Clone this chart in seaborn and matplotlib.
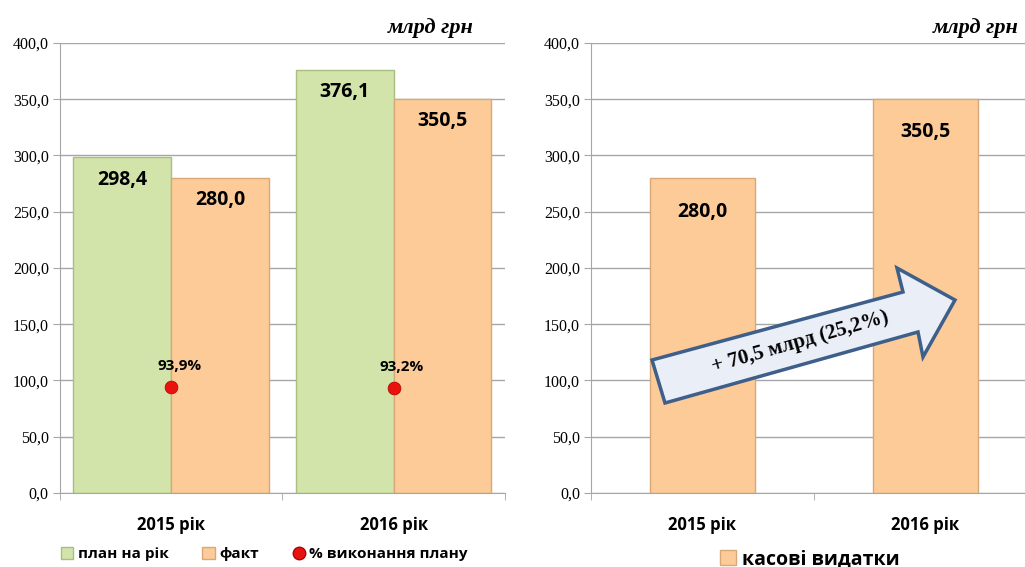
import numpy as np
import pandas as pd
import seaborn as sns
import matplotlib.pyplot as plt
from matplotlib.patches import Patch, Polygon
from matplotlib.lines import Line2D
from matplotlib.ticker import FuncFormatter, FixedLocator

# дані
years = ['2015 рік', '2016 рік']
plan = [298.4, 376.1]
fact = [280.0, 350.5]
pct_done = [93.9, 93.2]
cash = [280.0, 350.5]
series = ['план на рік', 'факт']

green = '#D3E4AA'
green_edge = '#A9BE80'
orange = '#FCCB98'
orange_edge = '#D8A878'
grid_c = '#A6A6A6'

sns.set_style('white')
plt.rcParams['font.family'] = ['Open Sans', 'DejaVu Sans']
plt.rcParams['text.color'] = 'black'
plt.rcParams['xtick.color'] = 'black'
plt.rcParams['ytick.color'] = 'black'
serif = ['Liberation Serif', 'DejaVu Serif']

df = pd.DataFrame({'рік': years * 2,
                   'сума': plan + fact,
                   'серія': [series[0]] * 2 + [series[1]] * 2})

fig = plt.figure(figsize=(10.25, 5.67), dpi=100)
ax1 = fig.add_axes([0.0585, 0.1305, 0.434, 0.7937])
ax2 = fig.add_axes([0.5766, 0.1305, 0.435, 0.7937])


def fmt(v, pos=None):
    return ('%.1f' % v).replace('.', ',')


def style_axis(ax):
    ax.set_ylim(0, 400)
    ax.set_xlim(-0.5, 1.5)
    ax.set_yticks(np.arange(0, 401, 50))
    ax.yaxis.set_major_formatter(FuncFormatter(fmt))
    ax.grid(axis='y', color=grid_c, lw=1)
    ax.set_axisbelow(True)
    for s in ['top', 'right']:
        ax.spines[s].set_visible(False)
    for s in ['left', 'bottom']:
        ax.spines[s].set_color(grid_c)
    ax.tick_params(axis='y', left=True, length=5, color=grid_c, labelcolor='black',
                   pad=3, labelsize=11.5)
    for lb in ax.get_yticklabels():
        lb.set_family(serif)
    ax.xaxis.set_minor_locator(FixedLocator([-0.5, 0.5, 1.5]))
    ax.tick_params(axis='x', which='minor', bottom=True, length=5, color=grid_c)
    ax.tick_params(axis='x', which='major', bottom=False, pad=13, labelsize=12,
                   labelcolor='black')
    for lb in ax.get_xticklabels():
        lb.set_fontweight('bold')
    ax.set_xlabel('')
    ax.set_ylabel('')


# ліва діаграма
sns.barplot(data=df, x='рік', y='сума', hue='серія', hue_order=series,
            palette={series[0]: green, series[1]: orange}, width=0.88, saturation=1,
            dodge=True, legend=False, ax=ax1, linewidth=1)
for cont, ec in zip(ax1.containers, [green_edge, orange_edge]):
    for bar, v in zip(cont, cont.datavalues):
        bar.set_edgecolor(ec)
        ax1.annotate(fmt(v), (bar.get_x() + bar.get_width() / 2, v),
                     xytext=(0, -9), textcoords='offset points',
                     ha='center', va='top', fontsize=14, fontweight='bold')

sns.scatterplot(x=years, y=pct_done, color='#E8130F', s=85, edgecolor='#B00000',
                linewidth=0.5, zorder=5, ax=ax1, legend=False)
for i, v in enumerate(pct_done):
    ax1.annotate(fmt(v) + '%', (i, v), xytext=(6, 10), textcoords='offset points',
                 ha='center', va='bottom', fontsize=11, fontweight='bold')
style_axis(ax1)
ax1.text(0.93, 1.01, 'млрд грн', transform=ax1.transAxes, ha='right', va='bottom',
         fontsize=16, fontweight='bold', style='italic', family=serif)

# права діаграма
sns.barplot(x=years, y=cash, color=orange, width=0.47, ax=ax2, saturation=1,
            edgecolor=orange_edge, linewidth=1)
for cont in ax2.containers:
    for bar, v in zip(cont, cont.datavalues):
        ax2.annotate(fmt(v), (bar.get_x() + bar.get_width() / 2, v),
                     xytext=(0, -17), textcoords='offset points',
                     ha='center', va='top', fontsize=14, fontweight='bold')
style_axis(ax2)
ax2.text(0.96, 1.01, 'млрд грн', transform=ax2.transAxes, ha='right', va='bottom',
         fontsize=16, fontweight='bold', style='italic', family=serif)

# стрілка приросту
W, H = 1025.0, 567.0
arrow_px = [(652, 360), (903, 292), (897, 268), (955, 300), (923, 357), (918, 332), (665, 403)]
arrow_pts = [(x / W, 1 - y / H) for x, y in arrow_px]
fig.patches.append(Polygon(arrow_pts, closed=True, transform=fig.transFigure,
                           facecolor='#E9EEF7', edgecolor='#3E5F8A', lw=2.5, zorder=10))
fig.text(800 / W, 1 - 342 / H, '+ 70,5 млрд (25,2%)', rotation=16,
         ha='center', va='center', fontsize=15, fontweight='bold', family=serif, zorder=11)

# легенди
h1 = [Patch(facecolor=green, edgecolor=green_edge),
      Patch(facecolor=orange, edgecolor=orange_edge),
      Line2D([], [], marker='o', ls='', markersize=9, markerfacecolor='#E8130F',
             markeredgecolor='#B00000')]
fig.legend(h1, series + ['% виконання плану'], loc='center', bbox_to_anchor=(0.258, 1 - 554 / H),
           ncol=3, frameon=False, handlelength=0.8, handleheight=0.8, handletextpad=0.3,
           columnspacing=2.2, prop={'weight': 'bold', 'size': 11})
fig.legend([Patch(facecolor=orange, edgecolor=orange_edge)], ['касові видатки'], loc='center',
           bbox_to_anchor=(0.79, 1 - 559 / H), frameon=False, handlelength=0.8, handleheight=0.8,
           handletextpad=0.3, prop={'weight': 'bold', 'size': 14})

fig.savefig('out.png', dpi=100)
